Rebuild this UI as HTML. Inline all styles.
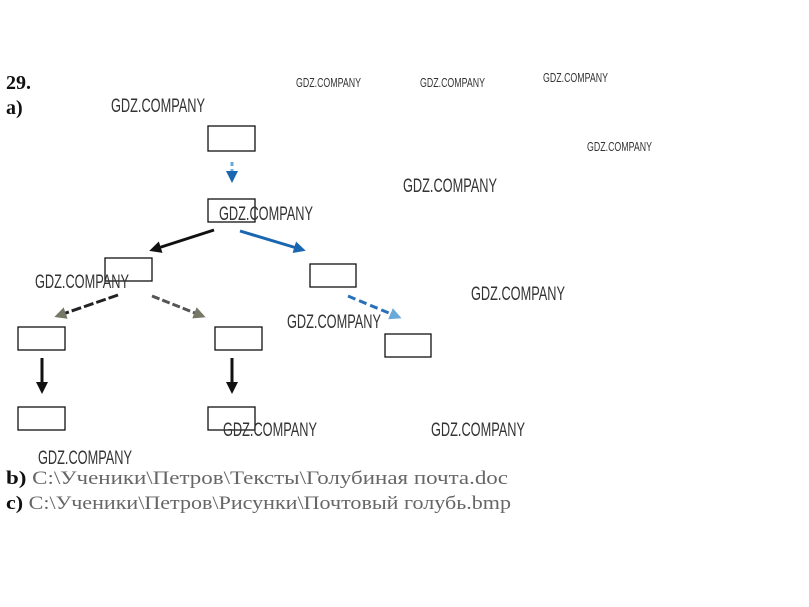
<!DOCTYPE html>
<html><head><meta charset="utf-8"><style>
html,body{margin:0;padding:0;background:#fff;width:809px;height:607px;overflow:hidden}
svg{display:block}
.w{font-family:"Liberation Sans",sans-serif;fill:#333}
.t{font-family:"Liberation Serif","Noto Serif CJK SC",serif;font-size:19px;fill:#666}
</style></head><body>
<svg width="809" height="607" viewBox="0 0 809 607" xmlns="http://www.w3.org/2000/svg">
<defs>
<marker id="ab" markerWidth="4" markerHeight="4" refX="2" refY="2" orient="auto"><path d="M0,0 L4,2 L0,4 z" fill="#111"/></marker>
<marker id="abl" markerWidth="4" markerHeight="4" refX="2" refY="2" orient="auto"><path d="M0,0 L4,2 L0,4 z" fill="#1a66b0"/></marker>
<marker id="alb" markerWidth="4" markerHeight="4" refX="2" refY="2" orient="auto"><path d="M0,0 L4,2 L0,4 z" fill="#6aaad8"/></marker>
<marker id="ag" markerWidth="4" markerHeight="4" refX="2" refY="2" orient="auto"><path d="M0,0 L4,2 L0,4 z" fill="#776"/></marker>
</defs>
<text x="6" y="89" font-family="Liberation Serif,serif" font-weight="bold" font-size="20" fill="#111">29.</text>
<text x="6" y="114" font-family="Liberation Serif,serif" font-weight="bold" font-size="20" fill="#111">a)</text>
<g fill="none" stroke="#111" stroke-width="1.3">
<rect x="208" y="126" width="47" height="25"/>
<rect x="208" y="199" width="47" height="23"/>
<rect x="105" y="258" width="47" height="23"/>
<rect x="310" y="264" width="46" height="23"/>
<rect x="18" y="327" width="47" height="23"/>
<rect x="215" y="327" width="47" height="23"/>
<rect x="385" y="334" width="46" height="23"/>
<rect x="18" y="407" width="47" height="23"/>
<rect x="208" y="407" width="47" height="23"/>
</g>
<line x1="232" y1="162" x2="232" y2="177" stroke="#6aaad8" stroke-width="3" stroke-dasharray="4,3" marker-end="url(#abl)"/>
<line x1="214" y1="230" x2="155" y2="249" stroke="#111" stroke-width="3" marker-end="url(#ab)"/>
<line x1="240" y1="231" x2="300" y2="249" stroke="#1a66b0" stroke-width="3" marker-end="url(#abl)"/>
<line x1="118" y1="295" x2="60" y2="315" stroke="#222" stroke-width="3" stroke-dasharray="10,3" marker-end="url(#ag)"/>
<line x1="152" y1="296" x2="200" y2="315" stroke="#555" stroke-width="3" stroke-dasharray="8,3" marker-end="url(#ag)"/>
<line x1="348" y1="296" x2="396" y2="316" stroke="#2a70b8" stroke-width="3" stroke-dasharray="8,4" marker-end="url(#alb)"/>
<line x1="42" y1="358" x2="42" y2="388" stroke="#111" stroke-width="3" marker-end="url(#ab)"/>
<line x1="232" y1="358" x2="232" y2="388" stroke="#111" stroke-width="3" marker-end="url(#ab)"/>
<g class="w" font-size="13">
<text x="296" y="87" textLength="65" lengthAdjust="spacingAndGlyphs">GDZ.COMPANY</text>
<text x="420" y="87" textLength="65" lengthAdjust="spacingAndGlyphs">GDZ.COMPANY</text>
<text x="543" y="82" textLength="65" lengthAdjust="spacingAndGlyphs">GDZ.COMPANY</text>
<text x="587" y="151" textLength="65" lengthAdjust="spacingAndGlyphs">GDZ.COMPANY</text>
</g>
<g class="w" font-size="19">
<text x="111" y="112" textLength="94" lengthAdjust="spacingAndGlyphs">GDZ.COMPANY</text>
<text x="403" y="192" textLength="94" lengthAdjust="spacingAndGlyphs">GDZ.COMPANY</text>
<text x="219" y="220" textLength="94" lengthAdjust="spacingAndGlyphs">GDZ.COMPANY</text>
<text x="35" y="288" textLength="94" lengthAdjust="spacingAndGlyphs">GDZ.COMPANY</text>
<text x="471" y="300" textLength="94" lengthAdjust="spacingAndGlyphs">GDZ.COMPANY</text>
<text x="287" y="328" textLength="94" lengthAdjust="spacingAndGlyphs">GDZ.COMPANY</text>
<text x="223" y="436" textLength="94" lengthAdjust="spacingAndGlyphs">GDZ.COMPANY</text>
<text x="431" y="436" textLength="94" lengthAdjust="spacingAndGlyphs">GDZ.COMPANY</text>
<text x="38" y="464" textLength="94" lengthAdjust="spacingAndGlyphs">GDZ.COMPANY</text>
</g>
<text class="t" x="6" y="484" textLength="502" lengthAdjust="spacingAndGlyphs"><tspan font-weight="bold" fill="#111">b)</tspan> C:\Ученики\Петров\Тексты\Голубиная почта.doc</text>
<text class="t" x="6" y="509" textLength="505" lengthAdjust="spacingAndGlyphs"><tspan font-weight="bold" fill="#111">c)</tspan> C:\Ученики\Петров\Рисунки\Почтовый голубь.bmp</text>
</svg>
</body></html>
